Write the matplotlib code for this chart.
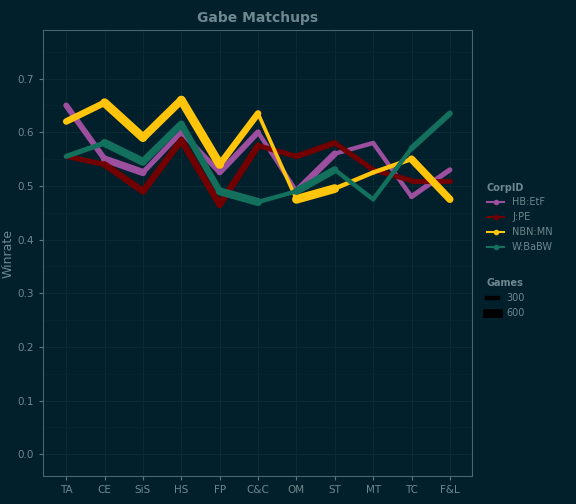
import matplotlib
matplotlib.use("Agg")
import matplotlib.pyplot as plt
from matplotlib.lines import Line2D

matchups = ["TA", "CE", "SiS", "HS", "FP", "C&C", "OM", "ST", "MT", "TC", "F&L"]
corps = ["HB:EtF", "J:PE", "NBN:MN", "W:BaBW"]
colors = ["#9C4F9F", "#720000", "#FFC40C", "#13705C"]

hb_winrate = [0.65, 0.55, 0.525, 0.60, 0.525, 0.60, 0.49, 0.56, 0.58, 0.48, 0.53]
jpe_winrate = [0.555, 0.54, 0.49, 0.585, 0.465, 0.575, 0.555, 0.58, 0.53, 0.51, 0.51]
nbn_winrate = [0.62, 0.655, 0.59, 0.66, 0.54, 0.635, 0.475, 0.495, 0.525, 0.55, 0.475]
w_winrate = [0.555, 0.58, 0.545, 0.615, 0.49, 0.47, 0.49, 0.53, 0.475, 0.57, 0.635]

# games per segment (start point of each segment)
hb_games = [400, 500, 350, 350, 400, 300, 450, 300, 300, 350]
jpe_games = [350, 450, 450, 450, 450, 350, 400, 350, 350, 350]
nbn_games = [450, 600, 550, 600, 450, 250, 600, 300, 300, 500]
w_games = [350, 550, 500, 450, 550, 300, 500, 300, 300, 400]

winrates = [hb_winrate, jpe_winrate, nbn_winrate, w_winrate]
games = [hb_games, jpe_games, nbn_games, w_games]

bg = "#02202B"
fig = plt.figure(figsize=(5.76, 5.04), dpi=100, facecolor=bg)
ax = fig.add_axes([0.075, 0.056, 0.744, 0.884], facecolor=bg)

x = list(range(len(matchups)))
for wr, g, c in zip(winrates, games, colors):
	for i in range(len(x) - 1):
		ax.plot(x[i:i + 2], wr[i:i + 2], color=c, lw=g[i] / 95.0,
				solid_capstyle="round", solid_joinstyle="round")

ax.set_xlim(-0.6, 10.57)
ax.set_ylim(-0.04, 0.79)
ax.set_xticks(x)
ax.set_xticklabels(matchups)
ax.set_yticks([0.0, 0.1, 0.2, 0.3, 0.4, 0.5, 0.6, 0.7])
ax.set_yticklabels(["0.0", "0.1", "0.2", "0.3", "0.4", "0.5", "0.6", "0.7"])
ax.tick_params(colors="#5E7680", labelcolor="#6F8790", labelsize=7.5, length=3)
ax.set_yticks([0.05 + 0.1 * k for k in range(8)], minor=True)
ax.tick_params(which="minor", length=0)
ax.grid(True, which="major", color="#0A2A34", lw=0.8)
ax.grid(True, which="minor", color="#052630", lw=0.5)
for s in ax.spines.values():
	s.set_color("#4A6470")
	s.set_linewidth(0.8)
ax.set_ylabel("Winrate", color="#6F8790", fontsize=9, labelpad=2)
ax.set_title("Gabe Matchups", color="#6F8790", fontsize=10, fontweight="bold")

corp_handles = [Line2D([0], [0], color=c, lw=1.5, marker="o", markersize=3) for c in colors]
leg1 = fig.legend(corp_handles, corps, loc="upper left", bbox_to_anchor=(0.83, 0.655),
				  title="CorpID", frameon=False, fontsize=7, labelcolor="#6F8790",
				  handlelength=1.8)
leg1.get_title().set_color("#6F8790")
leg1.get_title().set_fontsize(7)
leg1.get_title().set_fontweight("bold")
leg1._legend_box.align = "left"

games_handles = [Line2D([0], [0], color="black", lw=300 / 95.0),
				 Line2D([0], [0], color="black", lw=600 / 95.0)]
leg2 = fig.legend(games_handles, ["300", "600"], loc="upper left", bbox_to_anchor=(0.83, 0.465),
				  title="Games", frameon=False, fontsize=7, labelcolor="#6F8790",
				  handlelength=1.2)
leg2.get_title().set_color("#6F8790")
leg2.get_title().set_fontsize(7)
leg2.get_title().set_fontweight("bold")
leg2._legend_box.align = "left"

fig.savefig("out.png", dpi=100, facecolor=bg)
